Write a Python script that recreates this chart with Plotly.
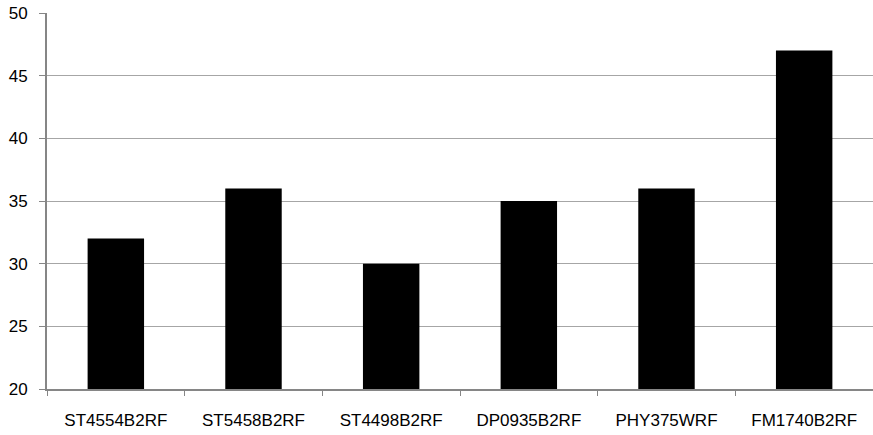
import plotly.graph_objects as go

categories = ["ST4554B2RF", "ST5458B2RF", "ST4498B2RF", "DP0935B2RF", "PHY375WRF", "FM1740B2RF"]
values = [32, 36, 30, 35, 36, 47]
y_ticks = [20, 25, 30, 35, 40, 45, 50]

fig = go.Figure(go.Bar(x=categories, y=values, marker=dict(color="black", line=dict(width=0))))

font = dict(family="Liberation Sans, Arial, sans-serif", size=17, color="black")
fig.update_layout(
    width=873, height=435,
    margin=dict(l=47, r=0, t=13, b=46, autoexpand=False),
    paper_bgcolor="white", plot_bgcolor="white",
    bargap=0.59,
    showlegend=False,
    font=font,
)
fig.update_yaxes(
    range=[20, 50], tickvals=y_ticks, ticktext=[str(v) for v in y_ticks],
    showgrid=True, gridcolor="#a6a6a6", gridwidth=1,
    showline=True, linecolor="#868686", linewidth=2,
    ticks="outside", ticklen=6, tickcolor="#868686", tickwidth=1,
    ticklabelstandoff=8, zeroline=False, automargin=False,
)
fig.update_xaxes(
    showgrid=False, showline=True, linecolor="#868686", linewidth=2,
    ticks="outside", ticklen=5, tickcolor="#868686", tickwidth=1,
    tickson="boundaries", ticklabelstandoff=15, automargin=False,
)
fig.write_html(
    "out.html",
    config={"displayModeBar": False},
    post_script="document.body.style.margin='0';document.body.style.overflow='hidden';",
)
